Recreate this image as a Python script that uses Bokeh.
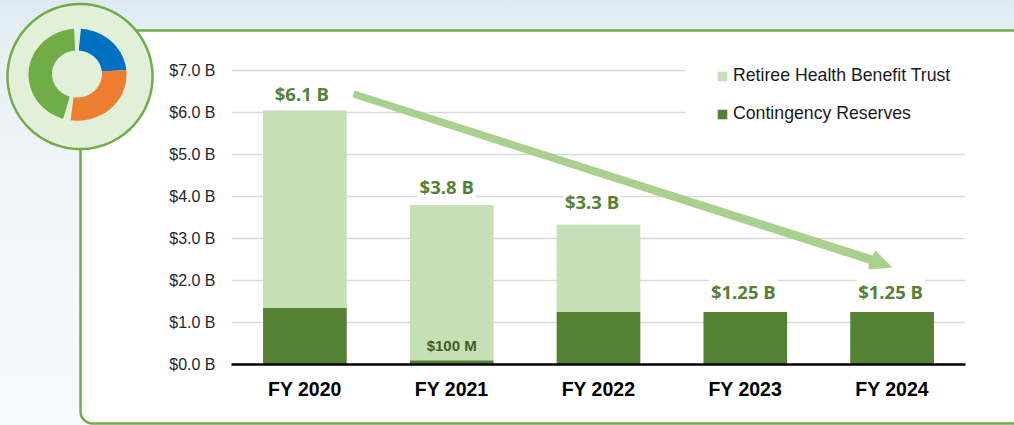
import numpy as np
from bokeh.core.properties import value
from bokeh.embed import file_html
from bokeh.layouts import column
from bokeh.models import BoxAnnotation, ColumnDataSource, FactorRange, Legend, LegendItem, PolyAnnotation, Range1d
from bokeh.plotting import figure
from bokeh.resources import INLINE

categories = ["FY 2020", "FY 2021", "FY 2022", "FY 2023", "FY 2024"]
contingency = [1.35, 0.10, 1.25, 1.25, 1.25]
retiree = [4.70, 3.70, 2.08, 0.0, 0.0]
total_labels = ["$6.1 B", "$3.8 B", "$3.3 B", "$1.25 B", "$1.25 B"]
tick_values = [0, 1, 2, 3, 4, 5, 6, 7]
tick_labels = ["$0.0 B", "$1.0 B", "$2.0 B", "$3.0 B", "$4.0 B", "$5.0 B", "$6.0 B", "$7.0 B"]
donut_spans = {"blue": (4, 84), "orange": (84, 188), "green": (197, 356)}

LIGHT, DARK = "#c5e0b4", "#548235"
SANS = "Liberation Sans"
W, H = 1014, 425
LEFT, RIGHT, TOP, BOTTOM = 231, 49, 49, 61

# ---------- backdrop figure: pixel coordinates over the whole canvas ----------
bg = figure(width=W, height=H, x_range=Range1d(0, W), y_range=Range1d(H, 0), x_axis_type=None, y_axis_type=None,
            output_backend="svg", toolbar_location=None, min_border=0, outline_line_color=None,
            background_fill_color=None, border_fill_color=None, frame_align=False)
bg.grid.visible = False
bg.styles = {"position": "fixed", "left": "0", "top": "0", "z-index": "0",
             "background": "linear-gradient(to bottom, #dde9f2 0px, #e4eef5 30px, #f1f6fa 200px, #f8fbfd 425px)"}

bg.add_layout(BoxAnnotation(left=80, right=1030, top=30, bottom=423, fill_color="white", fill_alpha=1,
                            line_color="#70ad47", line_alpha=1, line_width=2.5, level="underlay",
                            border_radius=(0, 0, 0, 12)))

t = np.linspace(0, 2 * np.pi, 240)
bg.patch(79.5 + 72.5 * np.cos(t), 76 + 72.5 * np.sin(t), fill_color="#e2efd9", line_color="#70ad47", line_width=2.5)

DONUT_COLORS = {"blue": "#0070c0", "orange": "#ed7d31", "green": "#70ad47"}
for name, (a0, a1) in donut_spans.items():
    a = np.radians(np.linspace(a0, a1, 60))
    ox, oy = 77 + 49 * np.sin(a), 74.2 - 46 * np.cos(a)
    ix, iy = 76.5 + 25 * np.sin(a[::-1]), 73.5 - 23.5 * np.cos(a[::-1])
    bg.patch(np.r_[ox, ix], np.r_[oy, iy], fill_color=DONUT_COLORS[name], line_color=None)

# ---------- chart figure ----------
# the value axis runs a little past $7.0 B so the legend is not clipped by the frame (42 px per $1 B)
p = figure(width=W, height=H, x_range=FactorRange(*categories, factor_padding=0, range_padding=0),
           y_range=Range1d(0, (H - BOTTOM - TOP) / 42), output_backend="svg", toolbar_location=None,
           min_border_left=LEFT, min_border_right=RIGHT, min_border_top=TOP, min_border_bottom=BOTTOM,
           background_fill_color=None, border_fill_color=None, outline_line_color=None, frame_align=False)
p.styles = {"position": "fixed", "left": "0", "top": "0", "z-index": "1"}

p.xaxis.axis_line_color = "black"
p.xaxis.axis_line_width = 2.5
p.xaxis.major_tick_line_color = None
p.xaxis.minor_tick_line_color = None
p.xaxis.major_label_text_font = SANS
p.xaxis.major_label_text_font_style = "bold"
p.xaxis.major_label_text_font_size = "19.5px"
p.xaxis.major_label_text_color = "black"
p.xaxis.major_label_standoff = 7
p.xgrid.visible = False
p.yaxis.ticker = tick_values
p.yaxis.major_label_overrides = dict(zip(tick_values, tick_labels))
p.yaxis.axis_line_color = None
p.yaxis.major_tick_line_color = None
p.yaxis.minor_tick_line_color = None
p.yaxis.major_label_text_font = SANS
p.yaxis.major_label_text_font_size = "16px"
p.yaxis.major_label_text_color = "#262626"
p.yaxis.major_label_standoff = 10
p.ygrid.grid_line_color = "#d9d9d9"
p.ygrid.grid_line_width = 1.5


def fx(v):  # page pixel to frame-relative screen x
    return [a - LEFT for a in v]


def fy(v):  # page pixel to frame-relative screen y (upwards)
    return [H - BOTTOM - a for a in v]


# white area behind the legend interrupts the top gridlines
p.add_layout(BoxAnnotation(left=685 - LEFT, right=970 - LEFT, top=fy([60])[0], bottom=fy([130])[0],
                           left_units="screen", right_units="screen", top_units="screen", bottom_units="screen",
                           fill_color="white", fill_alpha=1, line_color=None, level="glyph"))

src = ColumnDataSource(dict(x=categories, contingency=contingency, retiree=retiree))
r = p.vbar_stack(["contingency", "retiree"], x="x", width=0.57, source=src, color=[DARK, LIGHT], line_color=None)

totals = [a + b for a, b in zip(contingency, retiree)]
label_src = ColumnDataSource(dict(x=categories, y=totals, text=total_labels,
                                  dx=[-3, -5, -6.5, -2, -1.5], dy=[-17, -18, -23, -21, -21]))
p.text(x="x", y="y", text="text", x_offset="dx", y_offset="dy", source=label_src,
       text_font=value("Open Sans"), text_font_style="bold", text_font_size="18.5px", text_color=DARK,
       text_align="center", text_baseline="middle", background_fill_color="white", padding=2)

small_src = ColumnDataSource(dict(x=[categories[1]], y=[contingency[1]], text=["$100 M"]))
p.text(x="x", y="y", text="text", y_offset=-15, source=small_src,
       text_font=value(SANS), text_font_style="bold", text_font_size="15px", text_color="#3f5f29",
       text_align="center", text_baseline="middle")

p.add_layout(PolyAnnotation(
    xs=fx([354, 872, 875, 892, 868, 868, 352]), ys=fy([90, 255, 250, 267, 269, 263, 97]),
    xs_units="screen", ys_units="screen", fill_color="#a9d18e", fill_alpha=1, line_color=None, level="annotation"))

legend = Legend(items=[LegendItem(label="Retiree Health Benefit Trust", renderers=[r[1]]),
                       LegendItem(label="Contingency Reserves", renderers=[r[0]])],
                location=(485, 240), orientation="vertical", padding=0, margin=0, spacing=17,
                glyph_width=12, glyph_height=12, label_standoff=5, border_line_color=None,
                background_fill_color=None, label_text_font=SANS, label_text_font_size="17.7px",
                label_text_color="#1a1a1a")
p.add_layout(legend, "center")

page = column(bg, p)
open("out.html", "w").write(file_html(page, INLINE))
